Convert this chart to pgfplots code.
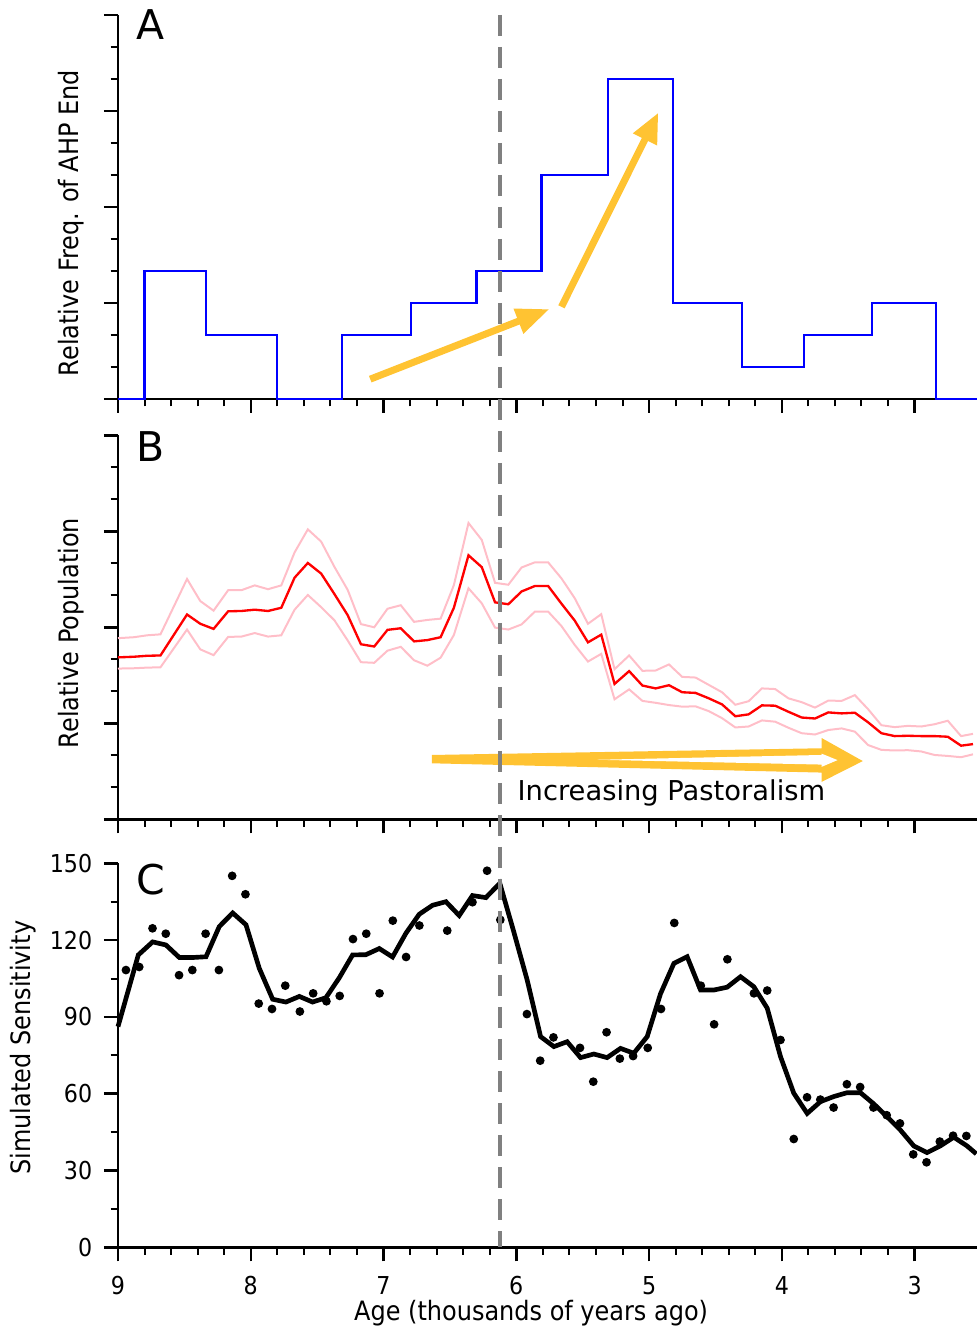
\documentclass[border=0pt]{standalone}
\usepackage{fontspec}
\setmainfont{DejaVu Sans}
\newfontfamily\condfont{DejaVu Sans Condensed}
\usepackage{pgfplots}
\pgfplotsset{compat=1.18}
\usetikzlibrary{arrows.meta}

\definecolor{arrowyellow}{RGB}{255,195,50}
\definecolor{pinkband}{RGB}{255,190,200}
\definecolor{dashgray}{RGB}{128,128,128}

% panel B: age, lower, mean, upper
\pgfplotstableread{
age lo mid hi
9.00 4.71 5.06 5.66
8.88 4.72 5.08 5.69
8.78 4.74 5.11 5.75
8.68 4.75 5.12 5.78
8.48 5.93 6.40 7.51
8.38 5.31 6.11 6.82
8.28 5.13 5.95 6.52
8.17 5.70 6.50 7.16
8.07 5.71 6.51 7.16
7.97 5.82 6.55 7.31
7.87 5.71 6.51 7.19
7.77 5.75 6.61 7.31
7.67 6.55 7.55 8.34
7.57 7.01 8.01 9.06
7.47 6.63 7.68 8.68
7.37 6.22 7.04 7.89
7.27 5.59 6.38 7.17
7.17 4.91 5.47 6.10
7.07 4.89 5.40 6.00
6.97 5.27 5.92 6.58
6.87 5.39 5.97 6.69
6.77 4.97 5.56 6.17
6.67 4.80 5.60 6.23
6.57 5.05 5.69 6.27
6.47 5.76 6.61 7.32
6.36 7.22 8.25 9.26
6.26 6.75 7.88 8.73
6.16 5.99 6.78 7.39
6.06 5.93 6.72 7.33
5.96 6.09 7.12 7.87
5.86 6.49 7.29 8.03
5.76 6.49 7.29 8.03
5.66 6.04 6.74 7.53
5.56 5.45 6.21 6.91
5.46 4.93 5.53 6.11
5.36 5.17 5.77 6.41
5.26 3.75 4.23 4.69
5.15 4.06 4.63 5.12
5.05 3.70 4.18 4.64
4.95 3.64 4.09 4.65
4.85 3.57 4.19 4.84
4.75 3.52 3.97 4.45
4.65 3.53 3.95 4.43
4.55 3.38 3.78 4.20
4.45 3.16 3.59 3.97
4.35 2.87 3.22 3.58
4.25 2.90 3.28 3.69
4.15 3.09 3.56 4.09
4.05 3.05 3.55 4.07
3.95 2.86 3.36 3.78
3.85 2.69 3.18 3.66
3.75 2.65 3.15 3.49
3.65 2.79 3.34 3.71
3.55 2.84 3.31 3.70
3.45 2.74 3.33 3.88
3.35 2.32 3.03 3.44
3.25 2.17 2.69 2.94
3.15 2.15 2.60 2.88
3.05 2.16 2.61 2.92
2.95 2.12 2.60 2.90
2.85 2.01 2.60 2.97
2.75 1.98 2.58 3.08
2.65 1.94 2.30 2.60
2.56 2.03 2.35 2.67
}\popdata

% panel C smoothed line
\pgfplotstableread{
age s
9.000 86.2
8.847 114.2
8.739 119.3
8.639 118.1
8.538 113.2
8.438 113.2
8.337 113.5
8.237 125.3
8.136 130.6
8.036 126.0
7.936 109.0
7.835 96.9
7.735 95.8
7.634 98.0
7.534 95.8
7.434 97.5
7.333 105.3
7.233 114.2
7.133 114.3
7.032 116.7
6.932 113.4
6.831 122.7
6.731 130.1
6.631 133.6
6.530 135.0
6.430 129.6
6.330 137.4
6.229 136.6
6.124 142.2
6.023 124.0
5.918 104.4
5.817 82.3
5.717 78.4
5.617 80.3
5.516 74.1
5.416 75.5
5.316 74.1
5.215 77.7
5.115 75.8
5.014 82.3
4.914 99.0
4.813 110.9
4.713 113.5
4.612 100.5
4.512 100.5
4.412 101.6
4.311 105.7
4.211 101.8
4.110 93.4
4.010 74.5
3.910 60.2
3.809 52.3
3.709 56.9
3.608 58.9
3.508 60.4
3.408 60.4
3.307 56.0
3.207 51.0
3.107 45.8
3.006 39.6
2.906 37.0
2.806 39.6
2.705 43.0
2.605 39.6
2.535 36.5
}\sensline

% panel C points
\pgfplotstableread{
age s
8.94 108.3
8.84 109.5
8.74 124.6
8.64 122.5
8.54 106.3
8.44 108.3
8.34 122.5
8.24 108.3
8.14 145.1
8.04 137.9
7.94 95.2
7.84 93.1
7.74 102.2
7.63 92.1
7.53 99.2
7.43 96.1
7.33 98.2
7.23 120.4
7.13 122.5
7.03 99.2
6.93 127.6
6.83 113.4
6.73 125.7
6.52 123.7
6.33 134.8
6.22 147.1
6.12 127.9
5.92 91.1
5.82 72.9
5.72 82.0
5.52 77.9
5.42 64.7
5.32 84.0
5.22 73.7
5.12 74.7
5.01 77.9
4.91 93.1
4.81 126.7
4.61 102.2
4.51 87.1
4.41 112.5
4.21 99.2
4.11 100.3
4.01 81.0
3.91 42.3
3.81 58.6
3.71 57.7
3.61 54.6
3.51 63.7
3.41 62.6
3.31 54.6
3.21 51.6
3.11 48.4
3.01 36.3
2.91 33.2
2.81 41.3
2.71 43.6
2.61 43.5
}\sensdots

\tikzset{letter/.style={font=\fontsize{12.3}{13}\selectfont, anchor=base}}

\pgfplotsset{
  panel/.style={
    scale only axis, width=257.7pt, height=115.2pt,
    anchor=south west,
    xmin=2.53, xmax=9, x dir=reverse,
    axis x line=bottom, axis y line=left,
    axis line style={-, line width=0.75pt},
    tick align=outside,
    major tick length=4.2pt, minor tick length=2.2pt,
    major tick style={black, line width=0.75pt},
    minor tick style={black, line width=0.6pt},
    xtick={3,4,5,6,7,8,9}, minor x tick num=4,
    /pgf/number format/assume math mode=true,
    ticklabel style={font=\condfont\fontsize{7.4}{8}\selectfont},
    xticklabel shift=1pt,
    label style={font=\condfont\fontsize{8}{9}\selectfont},
    clip=false,
  },
}

\begin{document}
\begin{tikzpicture}
\useasboundingbox (0,0) rectangle (293.1pt,399.6pt);

% ---- A ----
\begin{axis}[panel, at={(35.4pt,279.9pt)},
  ymin=0, ymax=12, ytick={0,3,6,9,12}, minor y tick num=2,
  xticklabels={}, yticklabels={},
  ylabel={Relative Freq. of AHP End},
  ylabel style={at={(axis description cs:-0.055,0.458)}, anchor=center}]
\addplot[const plot, blue, line width=0.65pt] coordinates {
  (9,0) (8.8,4) (8.34,2) (7.8,0) (7.31,2) (6.79,3) (6.3,4) (5.81,7)
  (5.31,10) (4.82,3) (4.3,1) (3.83,2) (3.32,3) (2.84,0) (2.53,0)};
\draw[arrowyellow, line width=2.1pt, -{Triangle[length=10pt,width=7.5pt]}]
  (axis cs:7.10,0.62) -- (axis cs:5.75,2.81);
\draw[arrowyellow, line width=2.1pt, -{Triangle[length=9pt,width=7.5pt]}]
  (axis cs:5.66,2.88) -- (axis cs:4.93,8.95);
\node[letter] at (axis description cs:0.038,0.935) {A};
\coordinate (dtop) at (axis cs:6.124,12);
\end{axis}

% ---- B ----
\begin{axis}[panel, at={(35.4pt,153.81pt)},
  ymin=0, ymax=12, ytick={0,3,6,9,12}, minor y tick num=2,
  xticklabels={}, yticklabels={},
  ylabel={Relative Population},
  ylabel style={at={(axis description cs:-0.055,0.485)}, anchor=center}]
\addplot[pinkband, line width=0.6pt] table[x=age, y=hi] {\popdata};
\addplot[pinkband, line width=0.6pt] table[x=age, y=lo] {\popdata};
\addplot[red, line width=0.7pt] table[x=age, y=mid] {\popdata};
\fill[arrowyellow] (axis cs:6.636,2.01) -- (axis cs:3.70,2.22) -- (axis cs:3.70,2.54)
  -- (axis cs:3.39,1.82) -- (axis cs:3.70,1.17) -- (axis cs:3.70,1.46)
  -- (axis cs:6.636,1.75) -- cycle;
\fill[white] (axis cs:5.39,1.86) -- (axis cs:3.70,2.01) -- (axis cs:3.70,2.05)
  -- (axis cs:3.58,1.85) -- (axis cs:3.70,1.64) -- (axis cs:3.70,1.71) -- cycle;
\node[anchor=base west, font=\fontsize{8.2}{9}\selectfont, inner sep=0pt]
  at (axis cs:5.995,0.60) {Increasing Pastoralism};
\node[letter] at (axis description cs:0.038,0.931) {B};
\end{axis}

% ---- C ----
\begin{axis}[panel, at={(35.4pt,25.41pt)},
  ymin=0, ymax=150, ytick={0,30,60,90,120,150}, minor y tick num=1,
  ylabel={Simulated Sensitivity},
  ylabel style={at={(axis description cs:-0.111,0.52)}, anchor=center},
  xlabel={Age (thousands of years ago)},
  xlabel style={at={(axis description cs:0.481,-0.171)}, anchor=center}]
\addplot[black, line width=1.4pt] table[x=age, y=s] {\sensline};
\addplot[only marks, mark=*, mark size=1.1pt, black] table[x=age, y=s] {\sensdots};
\node[letter] at (axis description cs:0.038,0.92) {C};
\coordinate (dbot) at (axis cs:6.124,0);
\end{axis}

\draw[dashgray, line width=1.2pt, dash pattern=on 6.3pt off 3.3pt] (dtop) -- (dbot);
\end{tikzpicture}
\end{document}
